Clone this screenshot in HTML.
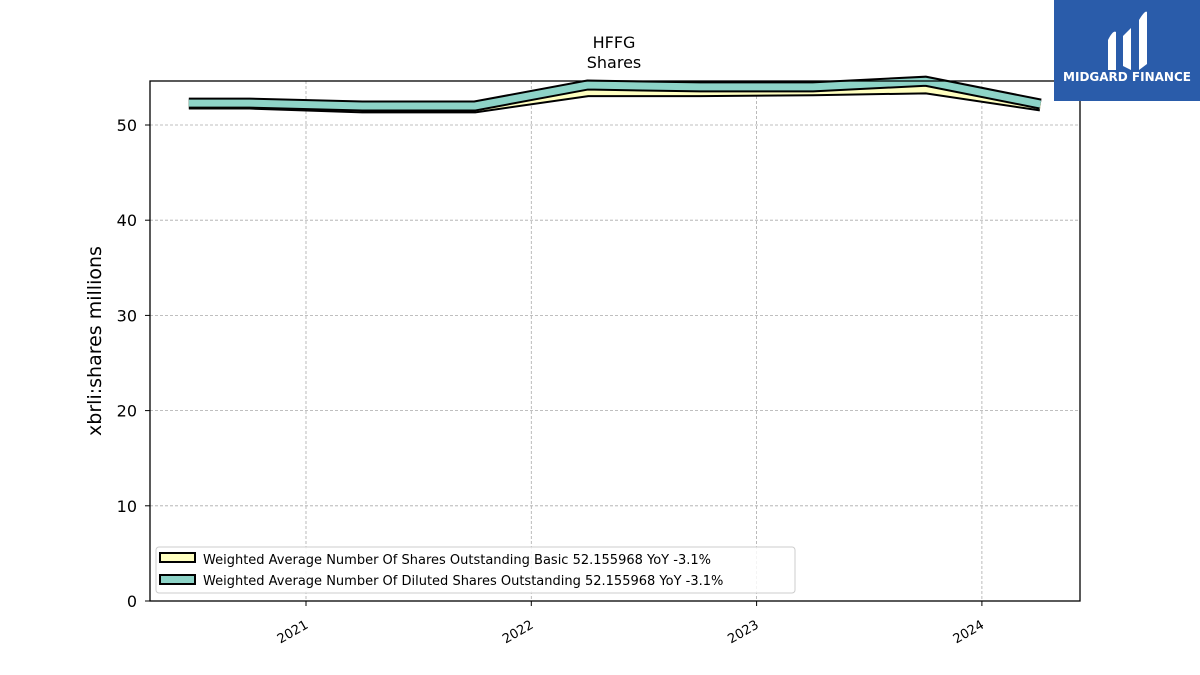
<!DOCTYPE html>
<html><head><meta charset="utf-8"><style>
body{margin:0;background:#fff;}
svg{display:block;font-family:"DejaVu Sans","Liberation Sans",sans-serif;}
</style></head><body>
<svg id="chart" width="1200" height="675" viewBox="0 0 1200 675">
  <text x="614" y="48" text-anchor="middle" font-size="16">HFFG</text>
  <text x="614" y="68" text-anchor="middle" font-size="16">Shares</text>
  <g id="grid"></g>
  <g id="series"></g>
  <rect x="150" y="81" width="930" height="520" fill="none" stroke="#000" stroke-width="1.3"/>
  <g id="axes"></g>
  <text transform="translate(101,341) rotate(-90)" text-anchor="middle" font-size="19">xbrli:shares millions</text>
  <g>
    <rect x="156" y="547" width="639" height="46" rx="3" fill="#fff" fill-opacity="0.85" stroke="#ccc"/>
    <rect x="160" y="553" width="35" height="9" fill="#ffffc0" stroke="#000" stroke-width="2"/>
    <text x="203" y="564" font-size="13">Weighted Average Number Of Shares Outstanding Basic  52.155968 YoY -3.1%</text>
    <rect x="160" y="575" width="35" height="9" fill="#8dd3c7" stroke="#000" stroke-width="2"/>
    <text x="203" y="585" font-size="13">Weighted Average Number Of Diluted Shares Outstanding  52.155968 YoY -3.1%</text>
  </g>
  <g>
    <rect x="1054" y="0" width="146" height="101" fill="#2a5caa"/>
    <path d="M1108 40 Q1113 30 1116 32 L1116 70 L1108 70 Z M1123 36 L1131 28 L1131 70 L1123 66 Z M1139 20 Q1145 10 1147 12 L1147 64 L1139 70 Z" fill="#fff"/>
    <text x="1127" y="81" text-anchor="middle" font-size="12" font-weight="bold" fill="#fff">MIDGARD FINANCE</text>
  </g>
</svg>
<script>
const dates = [2020.48, 2020.75, 2021.25, 2021.75, 2022.25, 2022.75, 2023.25, 2023.75, 2024.26];
const basicValues = [52.2, 52.2, 51.8, 51.8, 53.5, 53.5, 53.6, 53.8, 52.0];
const dilutedValues = [52.3, 52.3, 52.0, 52.0, 54.2, 54.0, 54.0, 54.6, 52.2];
const yTicks = [0, 10, 20, 30, 40, 50];
const xTicks = [2021, 2022, 2023, 2024];
const ns = "http://www.w3.org/2000/svg";
function xs(v){ return 306 + (v - 2021) * 225.3; }
function ys(v){ return 601 - v * 9.52; }
function mk(tag, attrs, parent){ const e = document.createElementNS(ns, tag); for (const k in attrs) e.setAttribute(k, attrs[k]); parent.appendChild(e); return e; }
const grid = document.getElementById('grid'), axes = document.getElementById('axes'), series = document.getElementById('series');
yTicks.forEach(t => {
  const y = ys(t);
  if (t > 0) { const g = mk('line', {x1:150, x2:1080, y1:y, y2:y, stroke:'#aaa', 'stroke-dasharray':'3,2', 'stroke-width':0.8}, grid);
    
     }
  const tk = mk('line', {x1:145, x2:150, y1:y, y2:y, stroke:'#000'}, axes);
  
  
  const tx = mk('text', {x:137, y:y + 6, 'text-anchor':'end', 'font-size':16}, axes);
  tx.textContent = t;
  
  
});
xTicks.forEach(t => {
  const x = xs(t);
  const g = mk('line', {x1:x, x2:x, y1:81, y2:601, stroke:'#aaa', 'stroke-dasharray':'3,2', 'stroke-width':0.8}, grid);
  
  
  const tk = mk('line', {x1:x, x2:x, y1:601, y2:606, stroke:'#000'}, axes);
  
  
  const tx = mk('text', {x:x, y:628, 'text-anchor':'end', 'font-size':13, transform:'rotate(-30 ' + x + ' 622)'}, axes);
  tx.textContent = t;
  
  
});
function drawSeries(vals, color, name){
  const pts = vals.map((v, i) => xs(dates[i]) + ',' + ys(v)).join(' ');
  const o = mk('polyline', {points:pts, fill:'none', stroke:'#000', 'stroke-width':11, 'stroke-linejoin':'miter'}, series);
  
  
  const l = mk('polyline', {points:pts, fill:'none', stroke:color, 'stroke-width':7, 'stroke-linejoin':'miter'}, series);
  
  
}
drawSeries(basicValues, '#ffffc0', 'basic-shares');
drawSeries(dilutedValues, '#8dd3c7', 'diluted-shares');
</script>
</body></html>
